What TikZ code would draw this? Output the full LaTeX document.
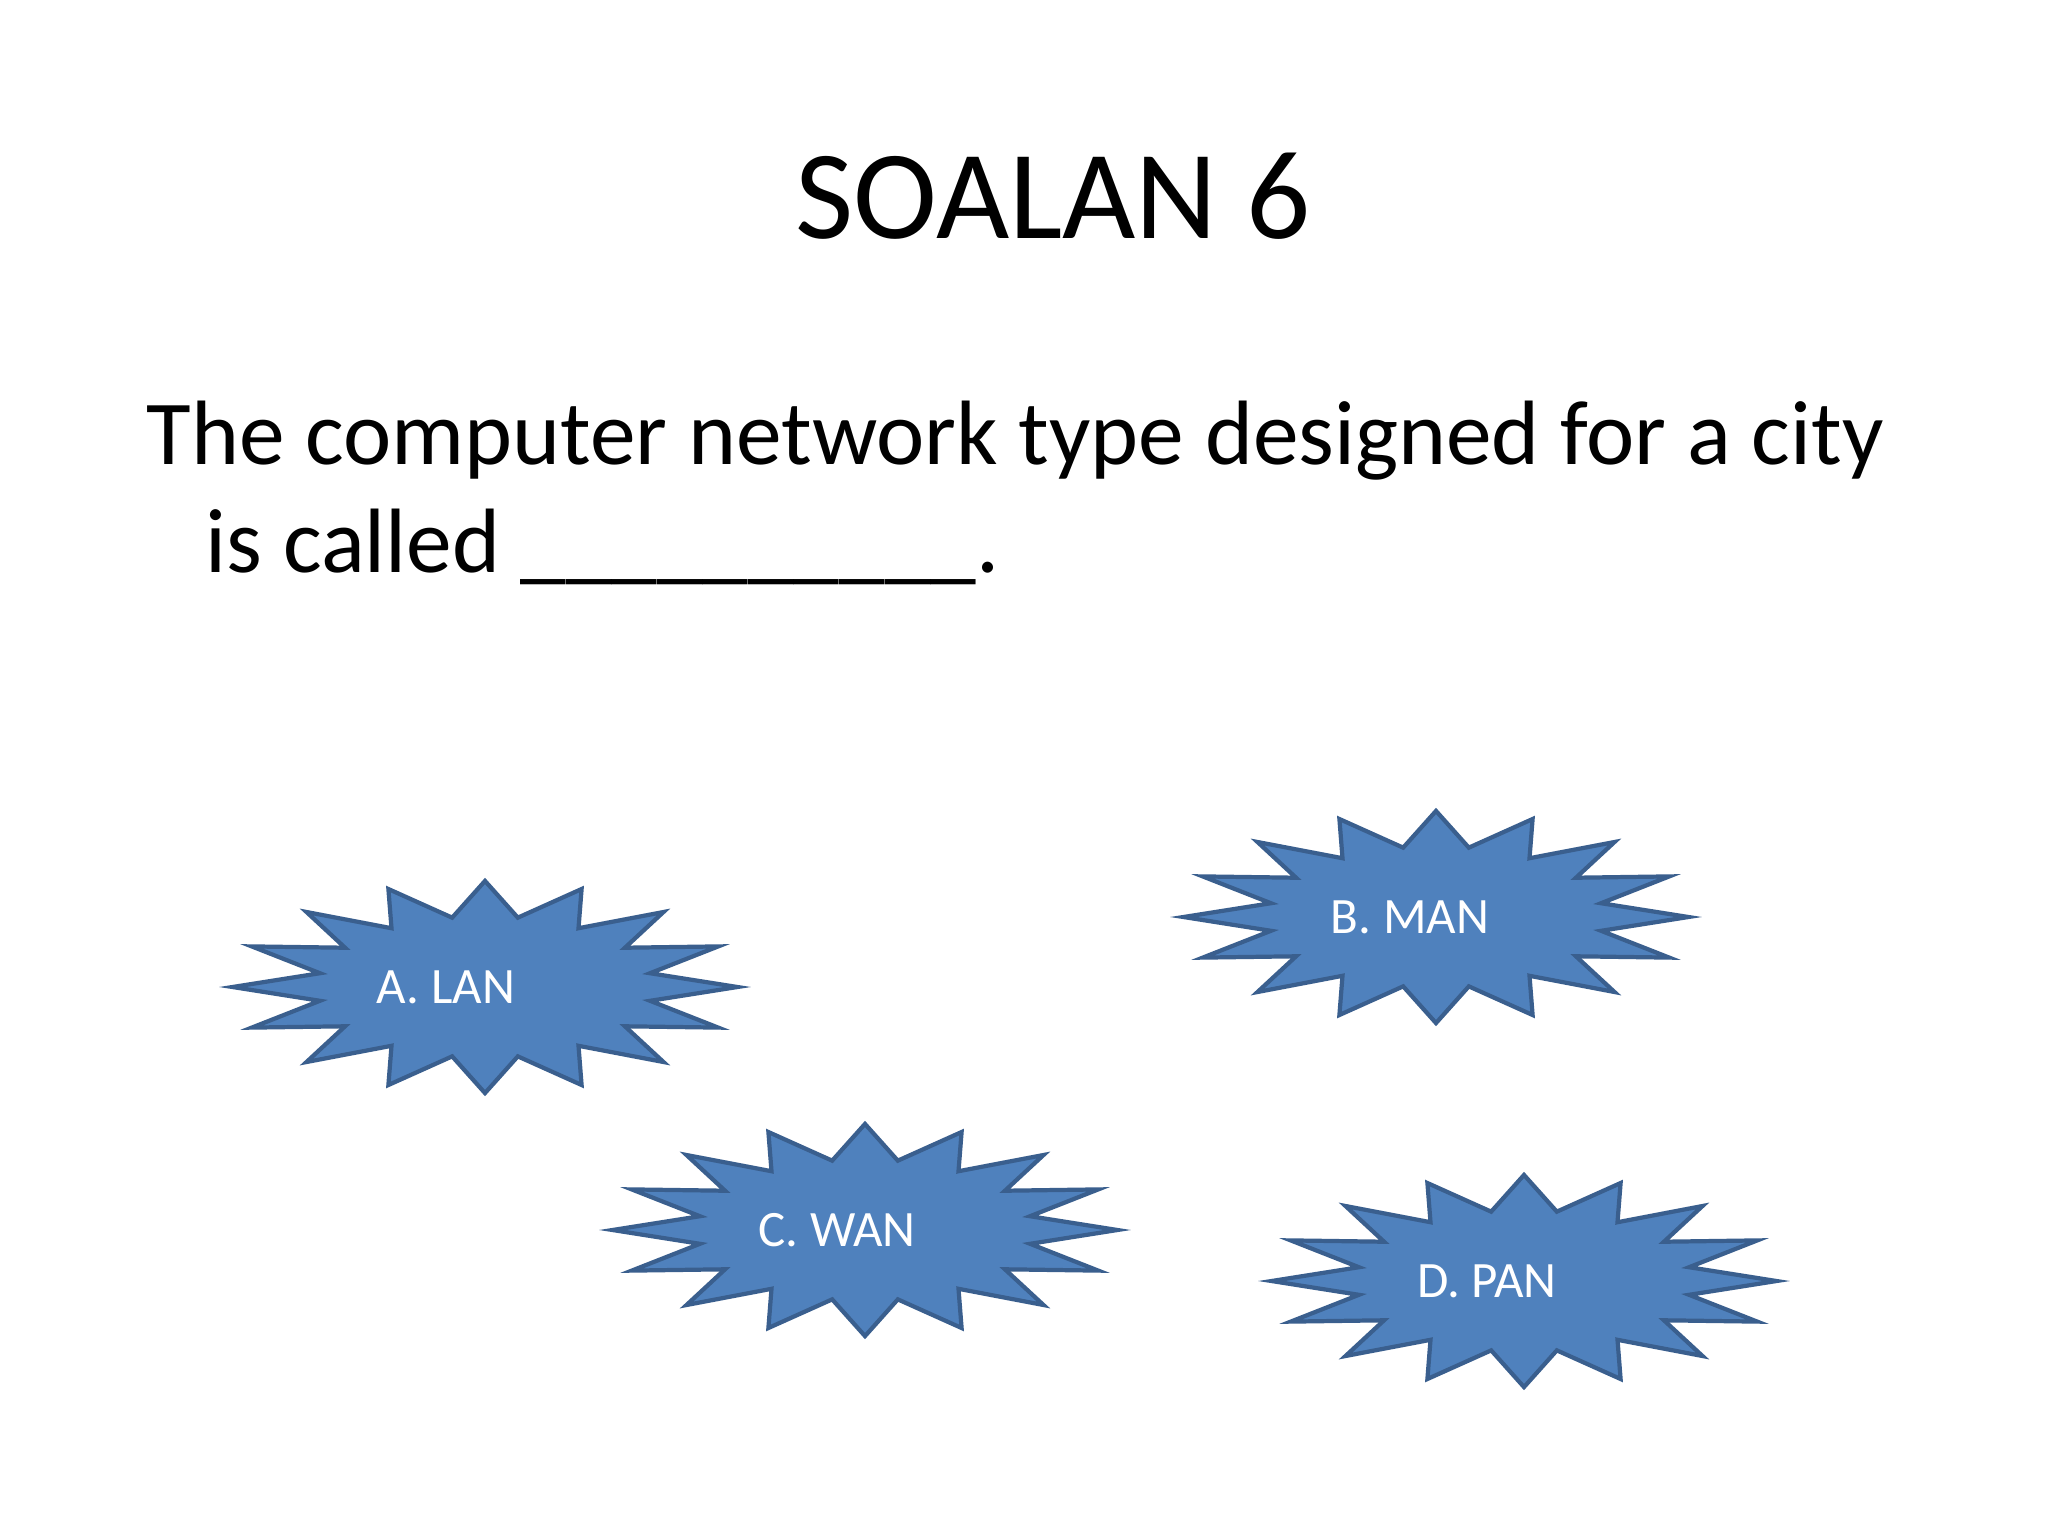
\documentclass[tikz,border=0pt]{standalone}
\usepackage{fontspec}
\setmainfont{Carlito}
\usetikzlibrary{shapes.geometric}
\tikzset{
  burst/.style={star, star points=16, star point ratio=1.5, minimum size=2.12cm,
    inner sep=0pt, draw=burstline, fill=burstfill, line width=1.2pt, transform shape},
  bursttext/.style={text=white, font=\fontsize{14.5}{17}\selectfont}
}
\definecolor{burstfill}{HTML}{4F81BD}
\definecolor{burstline}{HTML}{3A5F8E}
\begin{document}
\begin{tikzpicture}[x=0.01cm,y=-0.01cm]
\useasboundingbox[fill=white] (0,0) rectangle (2048,1536);
\node[font=\fontsize{36}{42}\selectfont] (title) at (1053,196) {SOALAN 6};
\node[anchor=base west, font=\fontsize{26}{31}\selectfont, inner sep=0] (q1) at (146,464) {The computer network type designed for a city};
\node[anchor=base west, font=\fontsize{26}{31}\selectfont, inner sep=0] (q2) at (205,572) {is called \_\_\_\_\_\_\_\_\_\_.};
\begin{scope}[shift={(485,987)}, xscale=2.38]
  \node[burst] (sA) at (0,0) {};
\end{scope}
\begin{scope}[shift={(1436,917)}, xscale=2.38]
  \node[burst] (sB) at (0,0) {};
\end{scope}
\begin{scope}[shift={(865,1230)}, xscale=2.38]
  \node[burst] (sC) at (0,0) {};
\end{scope}
\begin{scope}[shift={(1524,1281)}, xscale=2.38]
  \node[burst] (sD) at (0,0) {};
\end{scope}
\node[bursttext] (tA) at (446,987) {A. LAN};
\node[bursttext] (tB) at (1410,917) {B. MAN};
\node[bursttext] (tC) at (837,1230) {C. WAN};
\node[bursttext] (tD) at (1487,1281) {D. PAN};
\end{tikzpicture}
\end{document}
